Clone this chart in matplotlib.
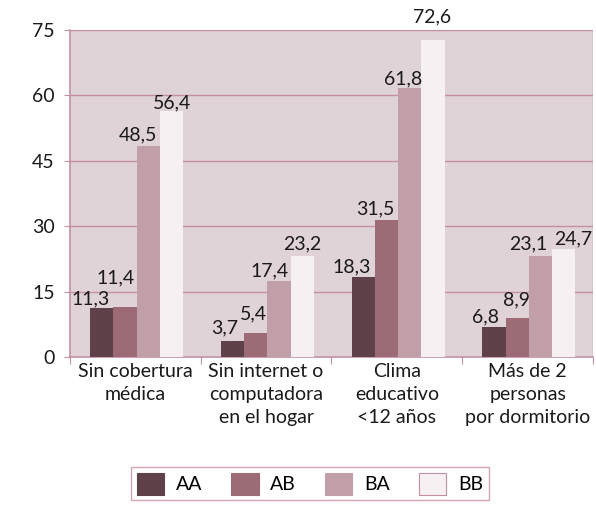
import matplotlib
matplotlib.use("Agg")
import matplotlib.pyplot as plt
import numpy as np
from matplotlib.patches import Patch

categories = ["Sin cobertura\nmédica", "Sin internet o\ncomputadora\nen el hogar",
              "Clima\neducativo\n<12 años", "Más de 2\npersonas\npor dormitorio"]
series = ["AA", "AB", "BA", "BB"]
AA = [11.3, 3.7, 18.3, 6.8]
AB = [11.4, 5.4, 31.5, 8.9]
BA = [48.5, 17.4, 61.8, 23.1]
BB = [56.4, 23.2, 72.6, 24.7]
values = [AA, AB, BA, BB]
yticks = [0, 15, 30, 45, 60, 75]

colors = ["#5f414a", "#9c6b76", "#c19fa8", "#f6f0f2"]
grid_c = "#c4909f"
bg = "#e0d3d7"
FS = 14
# label offsets in pixels (dx, dy), per [series][category], to avoid overlap
offs_px = [
    [(-11, 0), (-8, 4), (-12, 2), (-8, 2)],
    [(-9, 21), (-2, 11), (-11, 2), (-1, 10)],
    [(-10, 2), (-10, 2), (-7, 0), (-12, 4)],
    [(0, 0), (0, 3), (-1, 15), (9, 2)],
]

plt.rcParams['font.family'] = ['Lato', 'DejaVu Sans']
fig = plt.figure(figsize=(5.96, 5.07), dpi=100)
ax = fig.add_axes([0.1174, 0.2959, 0.8775, 0.6449])
ax.set_facecolor(bg)

x = np.arange(len(categories))
w = 0.178
for i, (s, vals) in enumerate(zip(series, values)):
    xs = x + (i - 1.5) * w + 0.01
    ax.bar(xs, vals, width=w, color=colors[i], zorder=3, linewidth=0)
    for j, v in enumerate(vals):
        dx, dy = offs_px[i][j]
        ax.annotate(f"{v:.1f}".replace(".", ","), (xs[j], v),
                    xytext=(dx * 0.72, dy * 0.72),
                    textcoords="offset points", ha="center", va="bottom",
                    fontsize=FS, color="#1a1a1a", zorder=4, annotation_clip=False)

ax.set_xlim(-0.5, 3.5)
ax.set_ylim(0, 75)
ax.set_yticks(yticks)
ax.set_yticklabels([str(t) for t in yticks], fontsize=FS, color="#1a1a1a")
for t in yticks[1:]:
    ax.axhline(t, color=grid_c, lw=1.0, zorder=1)
ax.tick_params(axis="y", length=4, color=grid_c, pad=7)
ax.set_xticks([-0.5, 0.5, 1.5, 2.5, 3.5])
ax.set_xticklabels([])
ax.tick_params(axis="x", length=5, color=grid_c)
ax.set_xticks(x, minor=True)
ax.set_xticklabels(categories, minor=True, fontsize=FS, color="#1a1a1a",
                   linespacing=1.45, va="top")
ax.tick_params(axis="x", which="minor", length=0, pad=4)
for sp in ["top", "right"]:
    ax.spines[sp].set_visible(False)
for sp in ["left", "bottom"]:
    ax.spines[sp].set_color(grid_c)
    ax.spines[sp].set_linewidth(1.2)
ax.axvline(3.5, color=grid_c, lw=1.0, zorder=1)

handles = [Patch(facecolor=colors[i], edgecolor=(grid_c if i == 3 else colors[i]),
                 linewidth=0.8, label=s) for i, s in enumerate(series)]
leg = fig.legend(handles=handles, loc="center", bbox_to_anchor=(0.52, 0.046),
                 ncol=4, fontsize=FS, frameon=True, fancybox=False,
                 handlelength=1.4, handleheight=1.35, handletextpad=0.6,
                 columnspacing=1.5, borderpad=0.3)
leg.get_frame().set_edgecolor(grid_c)
leg.get_frame().set_linewidth(1.0)

fig.savefig("out.png", dpi=100)
